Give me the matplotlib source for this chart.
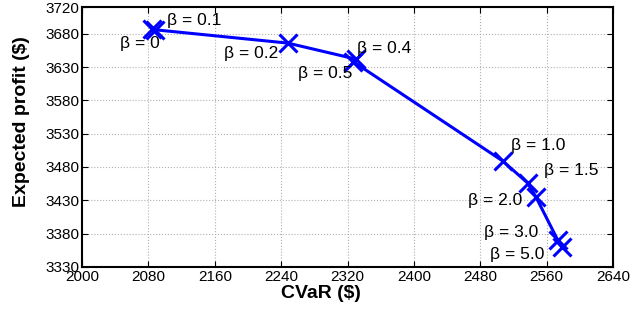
import matplotlib
matplotlib.use('Agg')
import matplotlib.pyplot as plt

plt.rcParams['font.family'] = ['Liberation Sans', 'DejaVu Sans']

# Data
betas = ['0', '0.1', '0.2', '0.4', '0.5', '1.0', '1.5', '2.0', '3.0', '5.0']
cvar = [2084, 2088, 2248, 2330, 2327, 2507, 2537, 2547, 2573, 2578]
profit = [3687, 3686, 3666, 3642, 3638, 3489, 3456, 3435, 3371, 3360]

# label centre positions (data coords)
label_x = [2070, 2135, 2204, 2364, 2293, 2550, 2589, 2498, 2517, 2525]
label_y = [3666, 3700, 3651, 3658, 3621, 3513, 3475, 3430, 3381, 3348]

x_ticks = [2000, 2080, 2160, 2240, 2320, 2400, 2480, 2560, 2640]
y_ticks = [3330, 3380, 3430, 3480, 3530, 3580, 3630, 3680, 3720]

fig = plt.figure(figsize=(6.36, 3.10), dpi=100)
ax = fig.add_axes([0.129, 0.139, 0.835, 0.838])

ax.plot(cvar, profit, color='#0000ff', linewidth=2.2, marker='x',
        markersize=13, markeredgewidth=2.2)

for b, tx, ty in zip(betas, label_x, label_y):
    ax.text(tx, ty, 'β = ' + b, fontsize=12.5, va='center', ha='center')

ax.set_xlim(2000, 2640)
ax.set_ylim(3330, 3720)
ax.set_xticks(x_ticks)
ax.set_yticks(y_ticks)
ax.tick_params(direction='in', top=True, right=True, labelsize=11, length=4, pad=2)
ax.grid(True, linestyle=':', color='#b0b0b0', linewidth=0.8)
for s in ax.spines.values():
    s.set_linewidth(1.5)

ax.set_xlabel('CVaR ($)', fontsize=14, fontweight='bold')
ax.set_ylabel('Expected profit ($)', fontsize=14, fontweight='bold')
ax.xaxis.set_label_coords(0.45, -0.068)
ax.yaxis.set_label_coords(-0.098, 0.558)

fig.savefig('out.png', dpi=100)
